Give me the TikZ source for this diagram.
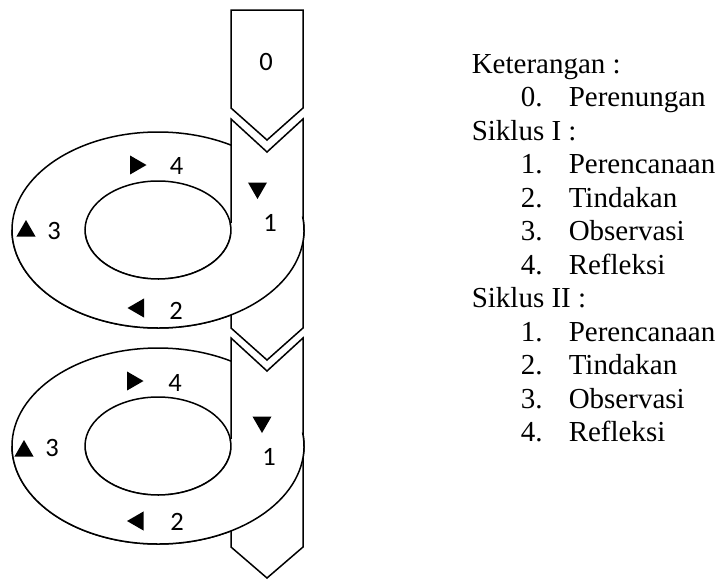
\documentclass[tikz,border=0pt]{standalone}
\usepackage{fontspec}
\setmainfont{Liberation Serif}
\newfontfamily\calibrifont{Carlito}
\usetikzlibrary{shapes.geometric}
\begin{document}
\begin{tikzpicture}[x=1pt,y=-1pt,line width=1.5pt,line join=miter,
  blockarrow/.style={draw=black,fill=white},
  ringback/.style={fill=white,even odd rule},
  tri/.style={regular polygon,regular polygon sides=3,fill=black,draw=none,inner sep=0pt,minimum size=22pt},
  num/.style={font=\calibrifont\fontsize{26.5}{31}\selectfont,inner sep=0pt},
  legend/.style={font=\fontsize{29}{33.5}\selectfont,anchor=base west,inner sep=0pt}]
\useasboundingbox (0,0) rectangle (719,579);
% ---------- cycle 1 ----------
\path[ringback] (158,230) ellipse [x radius=146,y radius=98] (158,230) ellipse [x radius=73,y radius=49];
\draw (158,230) ellipse [x radius=146,y radius=98];
\draw (158,230) ellipse [x radius=73,y radius=49];
% arrow 0
\draw[blockarrow] (231,10) -- (303,10) -- (303,108) -- (267,140) -- (231,108) -- cycle;
% arrow 1
\draw[blockarrow] (231,119) -- (267,152) -- (303,119) -- (303,328) -- (267,360) -- (231,328) -- cycle;
% front half of ring 1
\path[fill=white] (158,230) ++(-8:146 and 98) arc[start angle=-8,end angle=180,x radius=146,y radius=98]
   -- (85,230) arc[start angle=180,end angle=-8,x radius=73,y radius=49] -- cycle;
\draw (158,230) ++(-8:146 and 98) arc[start angle=-8,end angle=180,x radius=146,y radius=98];
\draw (158,230) ++(-8:73 and 49) arc[start angle=-8,end angle=180,x radius=73,y radius=49];
% ---------- cycle 2 ----------
\path[ringback] (158,446) ellipse [x radius=146,y radius=98] (158,446) ellipse [x radius=73,y radius=49];
\draw (158,446) ellipse [x radius=146,y radius=98];
\draw (158,446) ellipse [x radius=73,y radius=49];
% arrow 2
\draw[blockarrow] (231,338) -- (267,371) -- (303,338) -- (303,547) -- (267,578) -- (231,547) -- cycle;
% front half of ring 2
\path[fill=white] (158,446) ++(-8:146 and 98) arc[start angle=-8,end angle=180,x radius=146,y radius=98]
   -- (85,446) arc[start angle=180,end angle=-8,x radius=73,y radius=49] -- cycle;
\draw (158,446) ++(-8:146 and 98) arc[start angle=-8,end angle=180,x radius=146,y radius=98];
\draw (158,446) ++(-8:73 and 49) arc[start angle=-8,end angle=180,x radius=73,y radius=49];
% ---------- labels cycle 1 ----------
\node[num] (n0) at (266,62) {0};
\node[tri,regular polygon rotate=180] (t11) at (257.5,188) {};
\node[num] (n11) at (270,223) {1};
\node[tri,regular polygon rotate=90] (t12) at (138.5,308) {};
\node[num] (n12) at (176,311) {2};
\node[tri] (t13) at (26,231) {};
\node[num] (n13) at (54,231) {3};
\node[tri,regular polygon rotate=-90] (t14) at (135.5,165) {};
\node[num] (n14) at (176.5,166) {4};
% ---------- labels cycle 2 ----------
\node[tri,regular polygon rotate=180] (t21) at (262,422) {};
\node[num] (n21) at (269,457) {1};
\node[tri,regular polygon rotate=90] (t22) at (138,521) {};
\node[num] (n22) at (177,522) {2};
\node[tri] (t23) at (24,451) {};
\node[num] (n23) at (52,448) {3};
\node[tri,regular polygon rotate=-90] (t24) at (132.5,381) {};
\node[num] (n24) at (175,383) {4};
% ---------- legend ----------
\node[legend] (k0) at (471,73) {Keterangan :};
\node[legend] (l0) at (520,106.5) {\makebox[48pt][l]{0.}Perenungan};
\node[legend] (s1) at (471,140) {Siklus I :};
\node[legend] (a1) at (520,173.5) {\makebox[48pt][l]{1.}Perencanaan};
\node[legend] (a2) at (520,207) {\makebox[48pt][l]{2.}Tindakan};
\node[legend] (a3) at (520,240.5) {\makebox[48pt][l]{3.}Observasi};
\node[legend] (a4) at (520,274) {\makebox[48pt][l]{4.}Refleksi};
\node[legend] (s2) at (471,307.5) {Siklus II :};
\node[legend] (b1) at (520,341) {\makebox[48pt][l]{1.}Perencanaan};
\node[legend] (b2) at (520,374.5) {\makebox[48pt][l]{2.}Tindakan};
\node[legend] (b3) at (520,408) {\makebox[48pt][l]{3.}Observasi};
\node[legend] (b4) at (520,441.5) {\makebox[48pt][l]{4.}Refleksi};
\end{tikzpicture}
\end{document}
